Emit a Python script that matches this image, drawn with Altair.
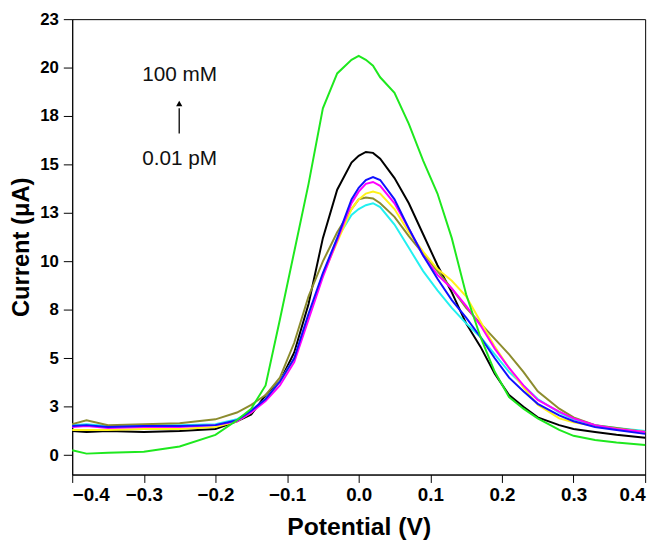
import altair as alt
import pandas as pd

potential = [-0.4, -0.38, -0.35, -0.3, -0.25, -0.2, -0.17, -0.15, -0.13, -0.11, -0.09, -0.07, -0.05,
             -0.03, -0.01, 0.0, 0.01, 0.02, 0.03, 0.05, 0.07, 0.09, 0.11, 0.13, 0.15, 0.17, 0.19,
             0.21, 0.23, 0.25, 0.28, 0.3, 0.33, 0.36, 0.4]

green = [0.25, 0.08, 0.12, 0.18, 0.45, 1.05, 1.8, 2.4, 3.6, 7.0, 10.5, 14.0, 17.9,
         19.7, 20.4, 20.6, 20.4, 20.1, 19.5, 18.7, 17.1, 15.2, 13.5, 11.2, 8.3, 6.1, 4.3,
         3.0, 2.4, 1.9, 1.3, 1.0, 0.78, 0.65, 0.52]
black = [1.25, 1.2, 1.25, 1.2, 1.25, 1.35, 1.75, 2.1, 3.1, 3.8, 5.3, 7.8, 11.2,
         13.7, 15.1, 15.45, 15.65, 15.6, 15.3, 14.3, 13.0, 11.4, 9.8, 8.4, 6.8, 5.6, 4.2,
         3.1, 2.5, 1.95, 1.55, 1.35, 1.2, 1.05, 0.9]
blue = [1.5, 1.55, 1.45, 1.5, 1.5, 1.55, 1.8, 2.3, 2.9, 3.8, 5.0, 7.3, 9.4,
        11.2, 13.2, 13.8, 14.2, 14.35, 14.2, 13.2, 11.7, 10.3, 9.1, 8.0, 7.1, 6.1, 5.0,
        4.0, 3.3, 2.65, 2.05, 1.75, 1.45, 1.3, 1.1]
magenta = [1.45, 1.5, 1.4, 1.45, 1.45, 1.55, 1.75, 2.2, 2.8, 3.6, 4.8, 7.0, 9.2,
           11.1, 13.0, 13.6, 14.0, 14.1, 13.9, 13.0, 11.7, 10.3, 9.3, 8.6, 7.7, 6.7, 5.5,
           4.5, 3.6, 2.85, 2.25, 1.9, 1.55, 1.35, 1.2]
yellow = [1.3, 1.3, 1.3, 1.35, 1.35, 1.45, 1.75, 2.2, 2.9, 3.8, 5.0, 7.2, 9.3,
          11.0, 12.7, 13.2, 13.5, 13.6, 13.5, 12.7, 11.5, 10.5, 9.6, 9.0, 8.2, 6.9, 5.6,
          4.5, 3.5, 2.6, 1.9, 1.7, 1.5, 1.35, 1.2]
olive = [1.6, 1.8, 1.55, 1.6, 1.65, 1.85, 2.2, 2.6, 3.1, 4.0, 5.8, 8.2, 10.0,
         11.5, 12.7, 13.2, 13.3, 13.25, 13.0, 12.3, 11.3, 10.4, 9.5, 8.6, 7.6, 6.8, 6.0,
         5.2, 4.3, 3.3, 2.4, 1.95, 1.55, 1.4, 1.2]
cyan = [1.55, 1.6, 1.5, 1.55, 1.55, 1.6, 1.85, 2.3, 2.9, 3.8, 5.0, 7.1, 9.3,
        11.2, 12.4, 12.7, 12.9, 13.0, 12.8, 11.9, 10.7, 9.5, 8.5, 7.6, 6.8, 6.1, 5.2,
        4.3, 3.6, 2.9, 2.2, 1.85, 1.55, 1.4, 1.25]

series = [
    ("black", black, "#000000"),
    ("cyan", cyan, "#22F0F0"),
    ("olive", olive, "#8C8C2E"),
    ("yellow", yellow, "#FFF21A"),
    ("magenta", magenta, "#FF00FF"),
    ("blue", blue, "#1010FF"),
    ("green", green, "#1EE81E"),
]

x_ticks = [-0.4, -0.3, -0.2, -0.1, 0.0, 0.1, 0.2, 0.3, 0.4]
y_ticks = [0, 2.5, 5, 7.5, 10, 12.5, 15, 17.5, 20, 22.5]

ann_text = ["100 mM", "0.01 pM"]
ann_x = [-0.25, -0.25]
ann_y = [19.6, 15.3]
arrow_x = [-0.2506]
arrow_y0 = [16.6]
arrow_y1 = [17.9]
head_y = [18.15]

xscale = alt.Scale(domain=[-0.4, 0.4], nice=False, zero=False)
yscale = alt.Scale(domain=[-1, 22.5], nice=False, zero=False)

xaxis = alt.Axis(values=x_ticks, format=".1f", title="Potential (V)", grid=False,
                 labelFont="Liberation Sans", labelFontWeight="bold", labelFontSize=19,
                 labelColor="black", labelPadding=3, tickSize=8, tickColor="black",
                 domainColor="black", titleFont="Liberation Sans", titleFontWeight="bold",
                 titleFontSize=25, titleColor="black", titlePadding=11)
yaxis = alt.Axis(values=y_ticks, format=".0f", title="Current (\u03bcA)", grid=False,
                 labelFont="Liberation Sans", labelFontWeight="bold", labelFontSize=17,
                 labelColor="black", labelPadding=5, tickSize=9, tickColor="black",
                 domainColor="black", titleFont="Liberation Sans", titleFontWeight="bold",
                 titleFontSize=24, titleColor="black", titlePadding=6)

def X(field):
    return alt.X(field, scale=xscale, axis=xaxis)

def Y(field):
    return alt.Y(field, scale=yscale, axis=yaxis)

layers = []
for name, vals, col in series:
    df = pd.DataFrame({"Potential": potential, "Current": vals})
    layers.append(
        alt.Chart(df).mark_line(color=col, strokeWidth=2).encode(
            x=X("Potential:Q"), y=Y("Current:Q"))
    )

ann_df = pd.DataFrame({"Potential": ann_x, "Current": ann_y, "t": ann_text})
text_layer = alt.Chart(ann_df).mark_text(font="Liberation Sans", fontSize=21, color="#111111",
                                         align="center", baseline="middle").encode(
    x=X("Potential:Q"), y=Y("Current:Q"), text="t:N")

arrow_df = pd.DataFrame({"Potential": arrow_x, "Current": arrow_y0, "top": arrow_y1})
arrow_layer = alt.Chart(arrow_df).mark_rule(color="black", strokeWidth=1.3).encode(
    x=X("Potential:Q"), y=Y("Current:Q"), y2="top:Q")

head_df = pd.DataFrame({"Potential": arrow_x, "Current": head_y})
head_layer = alt.Chart(head_df).mark_point(shape="triangle-up", filled=True, color="black",
                                          size=40, opacity=1).encode(
    x=X("Potential:Q"), y=Y("Current:Q"))

chart = alt.layer(*layers, text_layer, arrow_layer, head_layer).properties(
    width=580, height=461,
    autosize=alt.AutoSizeParams(type="none"),
    padding={"left": 65, "top": 8, "right": 13, "bottom": 66},
    background="white",
).configure_view(stroke="black", strokeWidth=1)

chart.save("out.html", embed_options={"renderer": "svg", "actions": False})
